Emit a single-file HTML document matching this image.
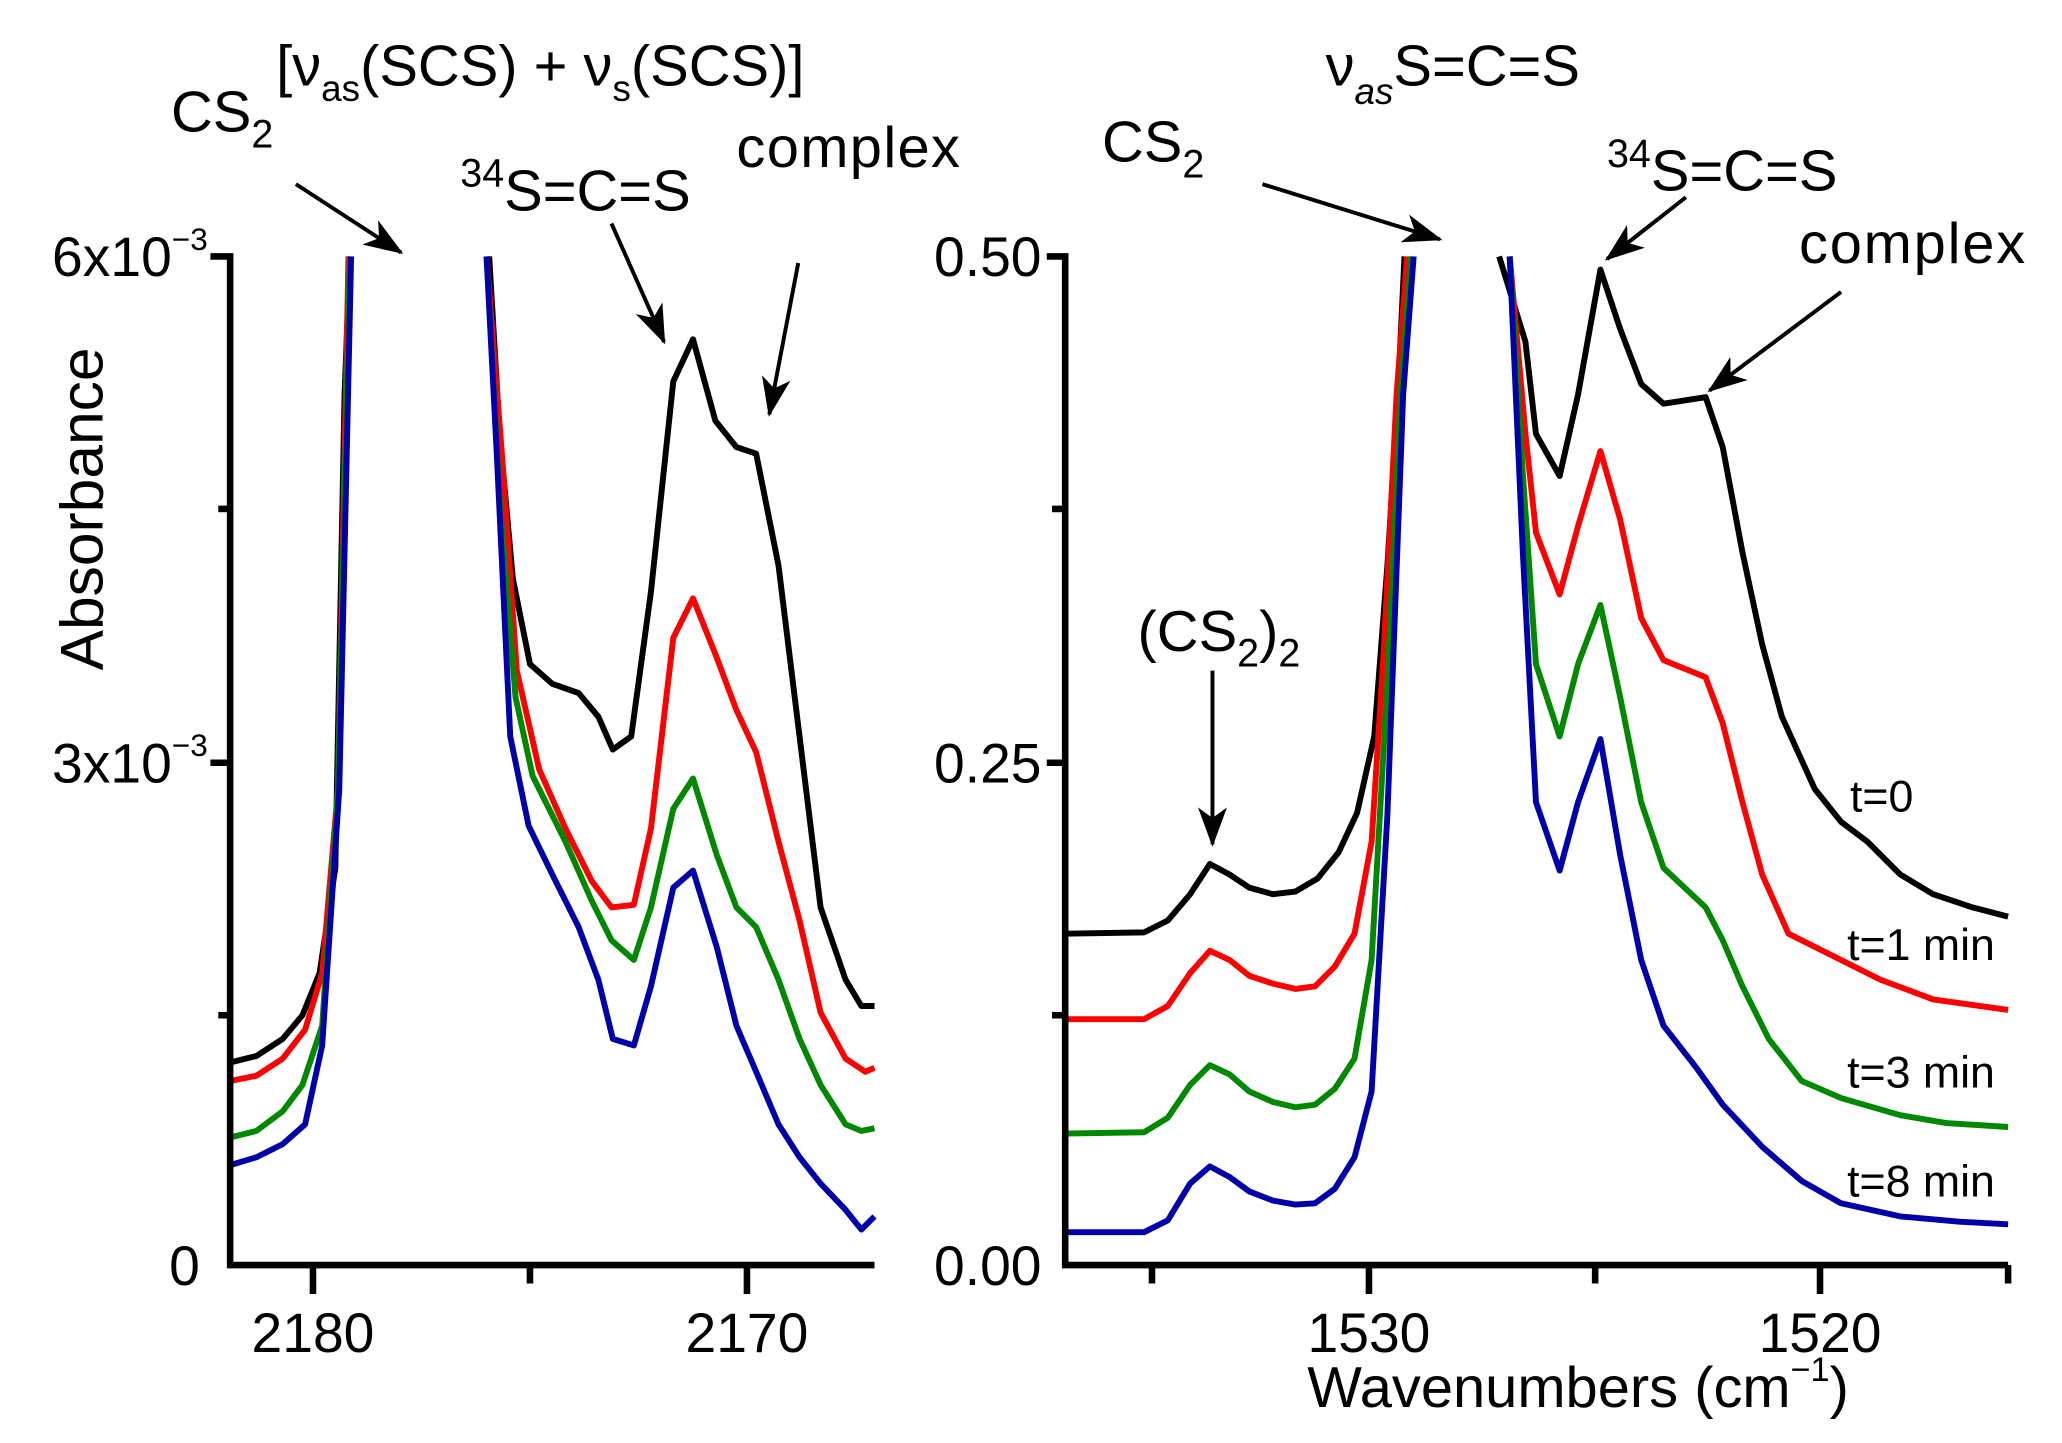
<!DOCTYPE html>
<html><head><meta charset="utf-8"><style>
html,body{margin:0;padding:0;background:#fff;}
svg{display:block;}
text{font-family:"Liberation Sans","DejaVu Sans",sans-serif;fill:#000;}
</style></head><body>
<svg width="2062" height="1443" viewBox="0 0 1568 1097.3" preserveAspectRatio="none" xmlns="http://www.w3.org/2000/svg">
<defs>
<marker id="a2" viewBox="0 0 30 22" refX="28" refY="11" markerWidth="30" markerHeight="22" orient="auto" markerUnits="userSpaceOnUse"><path d="M0,0 L30,11 L0,22 L8,11 z" fill="#000"/></marker></defs>
<g fill="none" stroke-width="4.5" stroke-linejoin="round">
<polyline stroke="#000" points="175,808 195,803 215,790 230,772 243,740 255,660 262,300 266,195"/>
<polyline stroke="#000" points="372,195 380,330 390,440 403,505 420,520 440,527 455,545 466,570 480,560 495,450 512,290 527,258 544,320 560,340 575,345 592,430 608,560 624,690 643,745 655,765 665,765"/>
<polyline stroke="#f00" points="175,822 195,818 215,805 232,783 245,740 257,600 265,195"/>
<polyline stroke="#f00" points="370,195 382,350 393,510 410,585 430,630 450,670 465,690 482,688 495,630 512,485 527,455 545,500 560,540 575,572 592,640 608,700 624,770 643,805 658,815 665,812"/>
<polyline stroke="#080" points="175,865 195,860 215,845 230,825 245,780 257,600 266,195"/>
<polyline stroke="#080" points="370,195 380,380 392,530 405,590 430,640 450,685 465,715 482,730 495,690 512,615 527,592 545,650 560,690 575,705 592,745 608,790 624,825 643,855 655,860 665,858"/>
<polyline stroke="#00a" points="175,886 195,880 215,870 232,855 245,795 258,600 267,195"/>
<polyline stroke="#00a" points="370,195 378,350 388,560 402,628 420,665 440,705 455,745 466,790 482,795 495,750 512,675 527,662 545,720 560,780 575,815 592,855 608,880 624,900 643,920 655,935 665,925"/>
<polyline stroke="#000" points="810,710 870,709 888,700 905,680 920,657 935,665 950,675 968,680 985,678 1002,668 1018,648 1032,618 1045,560 1055,430 1063,300 1068,195"/>
<polyline stroke="#000" points="1140,195 1160,260 1168,330 1186,362 1200,300 1217,205 1232,250 1248,292 1265,307 1297,302 1310,340 1325,420 1340,490 1355,545 1380,600 1400,625 1420,640 1445,665 1470,680 1500,690 1527,697"/>
<polyline stroke="#f00" points="810,775 870,775 888,765 905,740 920,723 935,730 950,742 968,748 985,752 1000,750 1015,735 1030,710 1043,640 1052,500 1062,300 1070,195"/>
<polyline stroke="#f00" points="1148,195 1160,330 1168,405 1186,452 1200,400 1217,343 1232,395 1248,470 1265,502 1297,515 1310,550 1325,610 1340,665 1360,710 1400,730 1430,745 1470,760 1527,768"/>
<polyline stroke="#080" points="810,862 870,861 888,850 905,825 920,810 935,817 950,830 968,838 985,842 1000,840 1015,828 1030,805 1043,730 1055,520 1065,300 1073,195"/>
<polyline stroke="#080" points="1148,195 1158,360 1168,505 1186,560 1200,505 1217,460 1232,530 1248,610 1265,660 1297,690 1310,715 1325,750 1345,790 1370,822 1400,835 1445,848 1480,854 1527,857"/>
<polyline stroke="#00a" points="810,937 870,937 888,928 905,900 920,887 935,895 950,906 968,913 985,916 1000,915 1015,904 1030,880 1043,830 1055,620 1067,300 1075,195"/>
<polyline stroke="#00a" points="1148,195 1158,420 1168,610 1186,662 1200,610 1217,562 1232,650 1248,730 1265,780 1290,812 1310,840 1340,872 1370,898 1400,915 1445,925 1490,929 1527,931"/>
</g>
<g stroke="#000" stroke-width="5" fill="none">
<polyline points="160,195 175,195 175,962 665,962"/>
<line x1="175" y1="387" x2="166" y2="387"/><line x1="160" y1="580" x2="175" y2="580"/><line x1="175" y1="772" x2="166" y2="772"/>
<line x1="238" y1="962" x2="238" y2="984"/><line x1="403" y1="962" x2="403" y2="976"/><line x1="568" y1="962" x2="568" y2="984"/>
<polyline points="796,195 810,195 810,962 1527,962"/>
<line x1="810" y1="387" x2="800" y2="387"/><line x1="796" y1="580" x2="810" y2="580"/><line x1="810" y1="772" x2="800" y2="772"/>
<line x1="876" y1="962" x2="876" y2="976"/><line x1="1041" y1="962" x2="1041" y2="984"/><line x1="1213" y1="962" x2="1213" y2="976"/><line x1="1384" y1="962" x2="1384" y2="984"/><line x1="1527" y1="962" x2="1527" y2="976"/>
</g>
<g stroke="#000" stroke-width="3" marker-end="url(#a2)">
<line x1="225" y1="140" x2="305" y2="192"/>
<line x1="465" y1="170" x2="505" y2="260"/>
<line x1="607" y1="200" x2="585" y2="315"/>
<line x1="960" y1="140" x2="1095" y2="182"/>
<line x1="1282" y1="150" x2="1222" y2="197"/>
<line x1="1400" y1="222" x2="1300" y2="297"/>
<line x1="922" y1="510" x2="922" y2="642"/>
</g>
<g font-size="44">
<text x="210" y="65">[ν<tspan font-size="28" dy="12">as</tspan><tspan dy="-12">(SCS) + ν</tspan><tspan font-size="28" dy="12">s</tspan><tspan dy="-12">(SCS)]</tspan></text>
<text x="130" y="100">CS<tspan font-size="30" dy="12">2</tspan></text>
<text x="350" y="160"><tspan font-size="30" dy="-18">34</tspan><tspan dy="18">S=C=S</tspan></text>
<text x="560" y="127" textLength="170">complex</text>
<text x="1008" y="65">ν<tspan font-size="28" dy="14" font-style="italic">as</tspan><tspan dy="-14">S=C=S</tspan></text>
<text x="838" y="123">CS<tspan font-size="30" dy="12">2</tspan></text>
<text x="1222" y="145"><tspan font-size="30" dy="-18">34</tspan><tspan dy="18">S=C=S</tspan></text>
<text x="1368" y="200" textLength="172">complex</text>
<text x="865" y="495">(CS<tspan font-size="30" dy="12">2</tspan><tspan dy="-12">)</tspan><tspan font-size="30" dy="12">2</tspan></text>
</g>
<g font-size="42" text-anchor="end">
<text x="158" y="210">6x10<tspan font-size="24" dy="-20">−3</tspan></text>
<text x="158" y="595">3x10<tspan font-size="24" dy="-20">−3</tspan></text>
<text x="152" y="977">0</text>
<text x="792" y="210">0.50</text>
<text x="792" y="595">0.25</text>
<text x="792" y="977">0.00</text>
</g>
<g font-size="42" text-anchor="middle">
<text x="238" y="1028">2180</text><text x="568" y="1028">2170</text>
<text x="1041" y="1028">1530</text><text x="1384" y="1028">1520</text>
<text x="1200" y="1070" font-size="44">Wavenumbers (cm<tspan font-size="26" dy="-20">−1</tspan><tspan dy="20">)</tspan></text>
<text transform="translate(78,387) rotate(-90)" font-size="46">Absorbance</text>
</g>
<g font-size="34" text-anchor="end">
<text x="1455" y="617">t=0</text>
<text x="1517" y="730">t=1 min</text>
<text x="1517" y="827">t=3 min</text>
<text x="1517" y="910">t=8 min</text>
</g>
</svg>
</body></html>
